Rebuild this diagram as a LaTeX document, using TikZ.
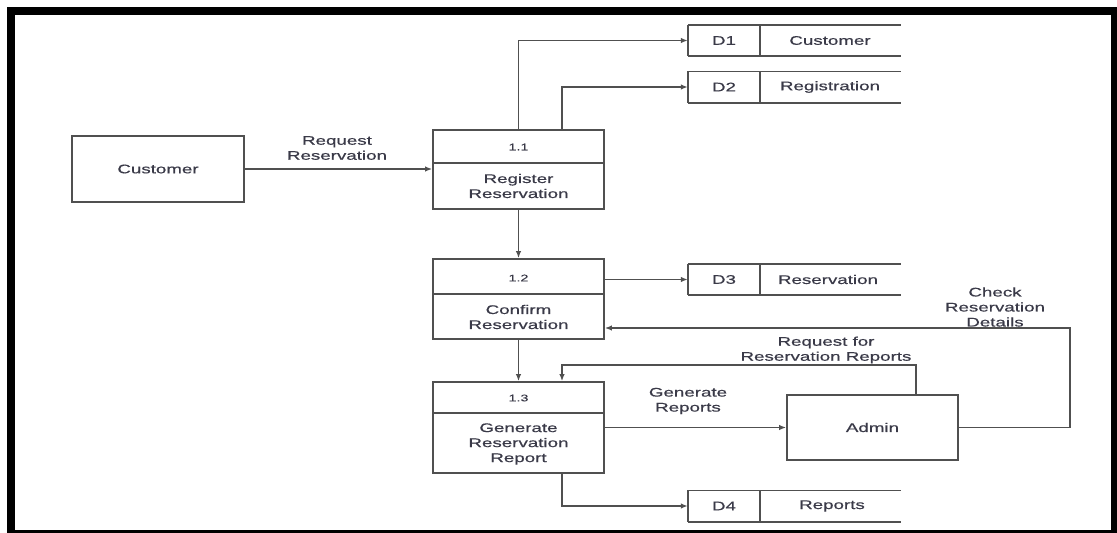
\documentclass[tikz,border=0pt]{standalone}
\usepackage{fontspec}
\setmainfont{Liberation Sans}[FakeStretch=1.5,FakeBold=0.5]
\usetikzlibrary{arrows.meta}
\definecolor{ink}{HTML}{3A3A48}
\definecolor{edge}{HTML}{505050}

\begin{document}
\begin{tikzpicture}[x=1pt,y=-1pt,
  every node/.style={text=ink, inner sep=0pt, font=\fontsize{12.5}{15}\selectfont},
  box/.style={draw=edge, line width=1.7pt},
  proc/.style={box, minimum width=171pt},
  num/.style={font=\fontsize{9.5}{11}\selectfont},
  lbl/.style={align=center},
  storeid/.style={minimum width=72pt, minimum height=31pt},
  rule/.style={draw=edge, line width=1.6pt},
  flow/.style={draw=edge, line width=1.5pt, -{Latex[length=7pt,width=5.5pt]}}
]
\useasboundingbox (0,0) rectangle (1117,533);

% thick frame
\fill[black] (7,7) rectangle (1117,533);
\fill[white] (15,15) rectangle (1111,530);

% external entities
\node[box, minimum width=172pt, minimum height=66pt] (cust) at (158,169) {Customer};
\node[box, minimum width=171pt, minimum height=65pt] (admin) at (872.5,427.5) {Admin};

% processes
\node[proc, minimum height=79pt] (p11) at (518.5,169.5) {};
\node[proc, minimum height=80pt] (p12) at (518.5,299) {};
\node[proc, minimum height=91pt] (p13) at (518.5,427.5) {};
\draw[rule] (p11.west |- 0,163) -- (p11.east |- 0,163);
\draw[rule] (p12.west |- 0,294) -- (p12.east |- 0,294);
\draw[rule] (p13.west |- 0,413) -- (p13.east |- 0,413);
\node[num] (p11n) at (518.5,147) {1.1};
\node[num] (p12n) at (518.5,278) {1.2};
\node[num] (p13n) at (518.5,398) {1.3};
\node[lbl] (p11t) at (518.5,186) {Register\\Reservation};
\node[lbl] (p12t) at (518.5,317) {Confirm\\Reservation};
\node[lbl] (p13t) at (518.5,444) {Generate\\Reservation\\Report};

% data stores
\node[storeid] (d1) at (724,40.5) {D1};
\node[storeid] (d2) at (724,87) {D2};
\node[storeid] (d3) at (724,279.5) {D3};
\node[storeid] (d4) at (724,506) {D4};
\node (d1n) at (830,40.5) {Customer};
\node (d2n) at (830,87) {Registration};
\node (d3n) at (828,279.5) {Reservation};
\node (d4n) at (832,506) {Reports};
\foreach \s in {d1,d2,d3,d4}{
  \draw[rule] (\s.north west) -- (\s.south west);
  \draw[rule] (\s.north east) -- (\s.south east);
  \draw[rule] (\s.north west) -- ++(213,0);
  \draw[rule] (\s.south west) -- ++(213,0);
}

% data flows
\draw[flow] (cust.east) -- (p11.west |- cust.east);
\node[lbl] (lreq) at (337,148) {Request\\Reservation};

\draw[flow] (p11.north) |- (d1.west);
\draw[flow] ([xshift=43.5pt]p11.north) |- (d2.west);
\draw[flow] (p11.south) -- (p12.north);
\draw[flow] (p12.east |- d3.west) -- (d3.west);
\draw[flow] (p12.south) -- (p13.north);
\draw[flow] (p13.east |- admin.west) -- (admin.west);
\node[lbl] (lgen) at (688,401) {Generate\\Reports};

\coordinate (req) at (916,365);
\draw[flow] ([xshift=43.5pt]admin.north) -- (req) -| ([xshift=43.5pt]p13.north);
\node[lbl] (lrfr) at (826,350) {Request for\\Reservation Reports};

\coordinate (chk) at (1070,328);
\draw[flow] (admin.east) -| (chk) -- (p12.east |- chk);
\node[lbl] (lchk) at (995,307) {Check\\Reservation\\Details};

\draw[flow] ([xshift=43.5pt]p13.south) |- (d4.west);
\end{tikzpicture}
\end{document}
